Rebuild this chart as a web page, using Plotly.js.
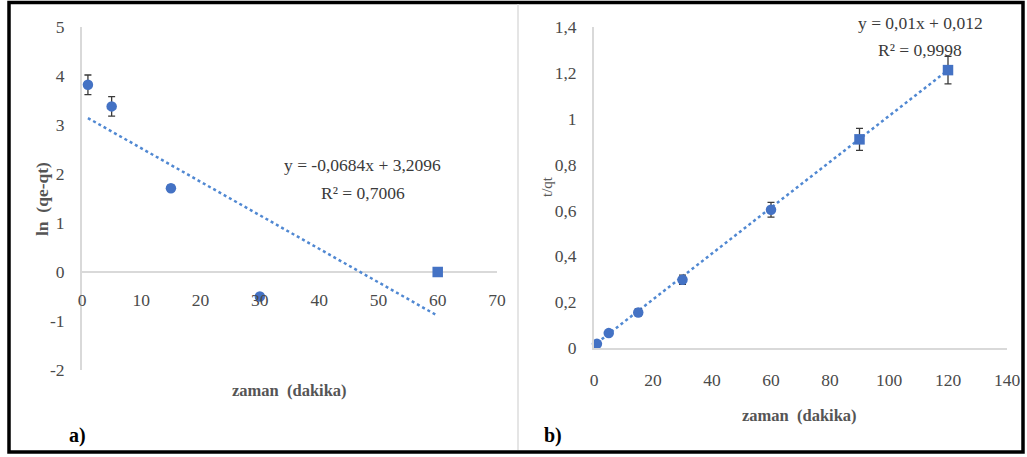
<!DOCTYPE html>
<html>
<head>
<meta charset="utf-8">
<script src="https://cdn.plot.ly/plotly-3.0.1.min.js"></script>
<style>
  html, body { margin: 0; padding: 0; background: #fff; }
  #chart { width: 1027px; height: 457px; }
</style>
</head>
<body>
<div id="chart"></div>
<script>
// Panel a) pseudo-first-order: ln(qe-qt) vs time
const timeA = [1, 5, 15, 30, 60];
const lnQeQt = [3.82, 3.38, 1.71, -0.5, 0];
const errA = [0.2, 0.2, 0.06, 0.02, 0.04];
const symA = ['circle', 'circle', 'circle', 'circle', 'square'];
const fitA = { slope: -0.0684, intercept: 3.2096, r2: '0,7006', eq: 'y = -0,0684x + 3,2096' };

// Panel b) pseudo-second-order: t/qt vs time
const timeB = [1, 5, 15, 30, 60, 90, 120];
const tOverQt = [0.018, 0.065, 0.155, 0.298, 0.603, 0.91, 1.212];
const errB = [0.006, 0.01, 0.015, 0.02, 0.032, 0.048, 0.06];
const symB = ['circle', 'circle', 'circle', 'circle', 'circle', 'square', 'square'];
const fitB = { slope: 0.01, intercept: 0.012, r2: '0,9998', eq: 'y = 0,01x + 0,012' };

// Tick labels (decimal comma)
const xTicksA = [0, 10, 20, 30, 40, 50, 60, 70];
const yTicksA = [-2, -1, 0, 1, 2, 3, 4, 5];
const xTicksB = [0, 20, 40, 60, 80, 100, 120, 140];
const yTicksB = [0, 0.2, 0.4, 0.6, 0.8, 1, 1.2, 1.4];
const yTickTextB = ['0', '0,2', '0,4', '0,6', '0,8', '1', '1,2', '1,4'];

const W = 1027, H = 457;
const px = v => v / W;
const py = v => 1 - v / H;

const blue = '#4472C4';
const trendBlue = '#5088d2';
const serif = 'Liberation Serif';
const tickFont = { family: serif, size: 17.5, color: '#4a4a4a' };
const eqFont = { family: serif, size: 17.5, color: '#3a3a3a' };
const titleFont = { family: serif, size: 16.5, color: '#555555' };
const panelFont = { family: serif, size: 20, color: '#000' };

function lineFrom(fit, xs) {
  const x0 = xs[0], x1 = xs[xs.length - 1];
  return { x: [x0, x1], y: [fit.slope * x0 + fit.intercept, fit.slope * x1 + fit.intercept] };
}

const trA = lineFrom(fitA, timeA);
const trB = lineFrom(fitB, timeB);

const errStyle = { type: 'data', visible: true, color: '#3a3a3a', thickness: 1.3, width: 3.5 };

const traces = [
  {
    x: trA.x, y: trA.y, xaxis: 'x', yaxis: 'y', mode: 'lines',
    line: { color: trendBlue, width: 2.5, dash: 'dot' }, hoverinfo: 'skip'
  },
  {
    x: timeA, y: lnQeQt, xaxis: 'x', yaxis: 'y', mode: 'markers',
    marker: { color: blue, size: 10.5, symbol: symA, line: { width: 0 } },
    error_y: Object.assign({ array: errA }, errStyle),
    cliponaxis: false
  },
  {
    x: trB.x, y: trB.y, xaxis: 'x2', yaxis: 'y2', mode: 'lines',
    line: { color: trendBlue, width: 2.5, dash: 'dot' }, hoverinfo: 'skip'
  },
  {
    x: timeB, y: tOverQt, xaxis: 'x2', yaxis: 'y2', mode: 'markers',
    marker: { color: blue, size: 10.5, symbol: symB, line: { width: 0 } },
    error_y: Object.assign({ array: errB }, errStyle),
    cliponaxis: false
  }
];

const axisLine = { showline: true, linecolor: '#d9d9d9', linewidth: 2, showgrid: false, zeroline: false };

const layout = {
  width: W, height: H,
  margin: { l: 0, r: 0, t: 0, b: 0 },
  paper_bgcolor: '#ffffff', plot_bgcolor: 'rgba(0,0,0,0)',
  showlegend: false,
  font: { family: serif },
  // left panel: labels hang from the y = 0 line, which is the y-axis zero line
  xaxis: {
    domain: [px(82), px(497)], range: [0, 70],
    anchor: 'free', position: py(272),
    showline: false, showgrid: false, zeroline: false,
    tickvals: xTicksA, ticktext: xTicksA.map(String),
    ticks: '', ticklabelstandoff: 15, tickfont: tickFont
  },
  yaxis: Object.assign({}, axisLine, {
    domain: [py(370), py(27)], range: [-2, 5], anchor: 'x',
    zeroline: true, zerolinecolor: '#d9d9d9', zerolinewidth: 2,
    tickvals: yTicksA, ticktext: yTicksA.map(String),
    ticks: '', ticklabelstandoff: 12, tickfont: tickFont
  }),
  xaxis2: Object.assign({}, axisLine, {
    domain: [px(594), px(1007)], range: [0, 140], anchor: 'y2',
    tickvals: xTicksB, ticktext: xTicksB.map(String),
    ticks: '', ticklabelstandoff: 15, tickfont: tickFont
  }),
  yaxis2: Object.assign({}, axisLine, {
    domain: [py(348), py(27)], range: [0, 1.4], anchor: 'x2',
    tickvals: yTicksB, ticktext: yTickTextB,
    ticks: '', ticklabelstandoff: 12, tickfont: tickFont
  }),
  shapes: [
    // outer frame
    { type: 'rect', xref: 'paper', yref: 'paper', x0: px(9), x1: px(1023), y0: py(452), y1: py(2.5),
      line: { color: '#000', width: 3.5 }, fillcolor: 'rgba(0,0,0,0)' },
    // divider between the two panels
    { type: 'line', xref: 'paper', yref: 'paper', x0: px(518), x1: px(518), y0: py(450), y1: py(4),
      line: { color: '#dcdcdc', width: 1.5 } }
  ],
  annotations: [
    // panel a texts
    { xref: 'paper', yref: 'paper', x: px(362), y: py(165), text: fitA.eq, showarrow: false,
      font: eqFont, xanchor: 'center', yanchor: 'middle' },
    { xref: 'paper', yref: 'paper', x: px(363), y: py(193), text: 'R² = ' + fitA.r2, showarrow: false,
      font: eqFont, xanchor: 'center', yanchor: 'middle' },
    { xref: 'paper', yref: 'paper', x: px(289), y: py(390), text: '<b>zaman  (dakika)</b>', showarrow: false,
      font: titleFont, xanchor: 'center', yanchor: 'middle' },
    { xref: 'paper', yref: 'paper', x: px(42), y: py(199), text: '<b>ln  (qe-qt)</b>', showarrow: false, textangle: -90,
      font: { family: serif, size: 17.5, color: '#555555' }, xanchor: 'center', yanchor: 'middle' },
    { xref: 'paper', yref: 'paper', x: px(77), y: py(435), text: '<b>a)</b>', showarrow: false,
      font: panelFont, xanchor: 'center', yanchor: 'middle' },
    // panel b texts
    { xref: 'paper', yref: 'paper', x: px(920), y: py(23), text: fitB.eq, showarrow: false,
      font: eqFont, xanchor: 'center', yanchor: 'middle' },
    { xref: 'paper', yref: 'paper', x: px(920), y: py(50), text: 'R² = ' + fitB.r2, showarrow: false,
      font: eqFont, xanchor: 'center', yanchor: 'middle' },
    { xref: 'paper', yref: 'paper', x: px(799), y: py(415), text: '<b>zaman  (dakika)</b>', showarrow: false,
      font: titleFont, xanchor: 'center', yanchor: 'middle' },
    { xref: 'paper', yref: 'paper', x: px(547), y: py(187), text: 't/qt', showarrow: false, textangle: -90,
      font: { family: serif, size: 15, color: '#595959' }, xanchor: 'center', yanchor: 'middle' },
    { xref: 'paper', yref: 'paper', x: px(553), y: py(435), text: '<b>b)</b>', showarrow: false,
      font: panelFont, xanchor: 'center', yanchor: 'middle' }
  ]
};

Plotly.newPlot('chart', traces, layout, { staticPlot: true, displayModeBar: false });
</script>
</body>
</html>
